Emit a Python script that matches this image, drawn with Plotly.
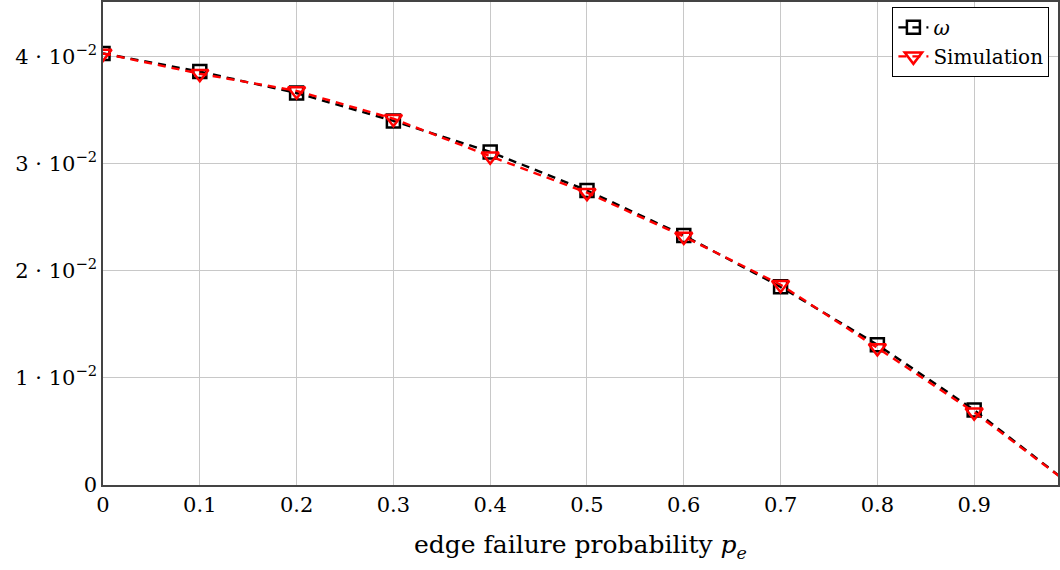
import plotly.graph_objects as go

p_e = [0.0, 0.1, 0.2, 0.3, 0.4, 0.5, 0.6, 0.7, 0.8, 0.9, 1.0]
omega = [0.0403, 0.0386, 0.0366, 0.0340, 0.0311, 0.0275, 0.0233, 0.0185, 0.0131, 0.0070, 0.0]
simulation = [0.0403, 0.0384, 0.0368, 0.0342, 0.0307, 0.0273, 0.0232, 0.0187, 0.0128, 0.0068, 0.0]

x_ticks = [0, 0.1, 0.2, 0.3, 0.4, 0.5, 0.6, 0.7, 0.8, 0.9]
x_ticktext = ["0", "0.1", "0.2", "0.3", "0.4", "0.5", "0.6", "0.7", "0.8", "0.9"]
y_ticks = [0, 0.01, 0.02, 0.03, 0.04]
y_ticktext = ["0", "1 · 10<sup>−2</sup>", "2 · 10<sup>−2</sup>", "3 · 10<sup>−2</sup>", "4 · 10<sup>−2</sup>"]

fig = go.Figure()

fig.add_trace(
    go.Scatter(
        x=p_e,
        y=omega,
        mode="lines+markers",
        name="<i>ω</i>",
        line=dict(color="black", width=2.4, dash="8px,6px"),
        marker=dict(symbol="square-open", size=13, color="black", line=dict(width=2.5)),
    )
)

fig.add_trace(
    go.Scatter(
        x=p_e,
        y=simulation,
        mode="lines+markers",
        name="Simulation",
        line=dict(color="red", width=2.4, dash="8px,6px"),
        marker=dict(symbol="triangle-down-open", size=15, color="red", line=dict(width=2.5)),
    )
)

fig.update_layout(
    width=1060,
    height=570,
    margin=dict(l=103, r=0, t=1, b=85),
    plot_bgcolor="white",
    paper_bgcolor="white",
    font=dict(family="DejaVu Serif", size=21, color="black"),
    showlegend=True,
    legend=dict(
        x=0.991,
        y=0.99,
        xanchor="right",
        yanchor="top",
        bordercolor="black",
        borderwidth=1,
        bgcolor="white",
        font=dict(size=20),
        tracegroupgap=0,
    ),
)

fig.update_xaxes(
    range=[0, 0.9866],
    tickvals=x_ticks,
    ticktext=x_ticktext,
    showgrid=True,
    gridcolor="#c8c8c8",
    gridwidth=1,
    showline=True,
    linecolor="#444444",
    linewidth=1.5,
    mirror=True,
    zeroline=False,
    ticks="",
    title=dict(text="edge failure probability <i>p<sub>e</sub></i>", standoff=20),
)

fig.update_yaxes(
    range=[0, 0.0451],
    tickvals=y_ticks,
    ticktext=y_ticktext,
    showgrid=True,
    gridcolor="#c8c8c8",
    gridwidth=1,
    showline=True,
    linecolor="#444444",
    linewidth=1.5,
    mirror=True,
    zeroline=False,
    ticks="",
)

fig.write_html(
    "out.html",
    config={"displayModeBar": False},
    post_script="document.body.style.margin='0';document.body.style.overflow='hidden';",
)
